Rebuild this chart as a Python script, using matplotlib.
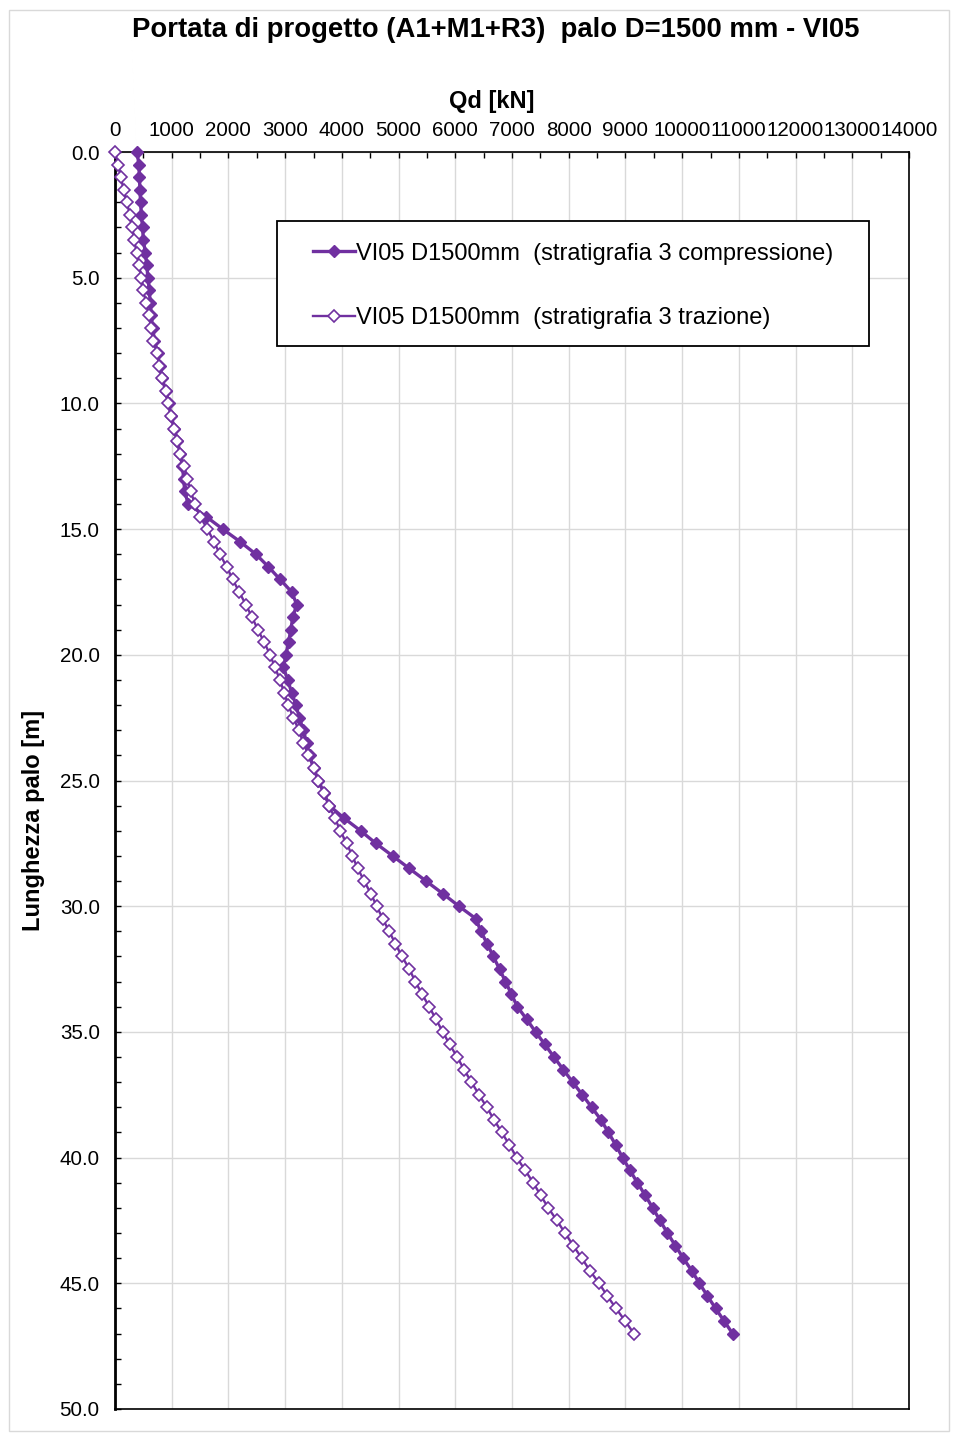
import numpy as np
import matplotlib.pyplot as plt
from matplotlib.ticker import MultipleLocator, FormatStrFormatter
from matplotlib.patches import Rectangle

plt.rcParams['font.family'] = ['Liberation Sans', 'DejaVu Sans']

# profondità [m]
depth = [0.0, 0.5, 1.0, 1.5, 2.0, 2.5, 3.0, 3.5, 4.0, 4.5,
         5.0, 5.5, 6.0, 6.5, 7.0, 7.5, 8.0, 8.5, 9.0, 9.5,
         10.0, 10.5, 11.0, 11.5, 12.0, 12.5, 13.0, 13.5, 14.0, 14.5,
         15.0, 15.5, 16.0, 16.5, 17.0, 17.5, 18.0, 18.5, 19.0, 19.5,
         20.0, 20.5, 21.0, 21.5, 22.0, 22.5, 23.0, 23.5, 24.0, 24.5,
         25.0, 25.5, 26.0, 26.5, 27.0, 27.5, 28.0, 28.5, 29.0, 29.5,
         30.0, 30.5, 31.0, 31.5, 32.0, 32.5, 33.0, 33.5, 34.0, 34.5,
         35.0, 35.5, 36.0, 36.5, 37.0, 37.5, 38.0, 38.5, 39.0, 39.5,
         40.0, 40.5, 41.0, 41.5, 42.0, 42.5, 43.0, 43.5, 44.0, 44.5,
         45.0, 45.5, 46.0, 46.5, 47.0]

# Qd compressione [kN]
qd_compressione = [390, 420, 430, 440, 450, 465, 485, 500, 535, 560,
                   580, 605, 620, 640, 665, 695, 750, 790, 830, 895,
                   945, 990, 1045, 1100, 1150, 1190, 1210, 1230, 1290, 1605,
                   1900, 2205, 2485, 2705, 2910, 3115, 3205, 3135, 3100, 3060,
                   3015, 2970, 3045, 3115, 3190, 3250, 3320, 3380, 3430, 3500,
                   3585, 3685, 3780, 4040, 4330, 4600, 4895, 5190, 5485, 5780,
                   6065, 6365, 6450, 6565, 6670, 6780, 6885, 6990, 7095, 7260,
                   7415, 7580, 7740, 7905, 8070, 8240, 8405, 8570, 8700, 8830,
                   8950, 9080, 9210, 9350, 9480, 9610, 9740, 9880, 10020, 10170,
                   10305, 10445, 10590, 10740, 10890]

# Qd trazione [kN]
qd_trazione = [0, 60, 105, 150, 205, 265, 305, 340, 380, 425,
               465, 500, 545, 600, 635, 675, 745, 780, 825, 895,
               940, 985, 1040, 1100, 1145, 1225, 1275, 1335, 1410, 1500,
               1630, 1745, 1850, 1970, 2075, 2190, 2305, 2415, 2520, 2630,
               2735, 2820, 2910, 2980, 3055, 3145, 3240, 3320, 3410, 3510,
               3585, 3685, 3770, 3880, 3970, 4085, 4185, 4280, 4395, 4510,
               4615, 4720, 4835, 4945, 5060, 5190, 5295, 5415, 5540, 5660,
               5780, 5900, 6035, 6155, 6285, 6420, 6555, 6685, 6820, 6955,
               7085, 7230, 7375, 7505, 7640, 7790, 7935, 8080, 8230, 8375,
               8535, 8680, 8835, 8995, 9150]

label_c = 'VI05 D1500mm  (stratigrafia 3 compressione)'
label_t = 'VI05 D1500mm  (stratigrafia 3 trazione)'

viola = '#7030A0'

fig = plt.figure(figsize=(9.55, 14.37), dpi=100)
# bordo grigio dell'area grafico
fig.patches.append(Rectangle((0.009, 0.004), 0.985, 0.989, transform=fig.transFigure,
                             fill=False, edgecolor='#D9D9D9', linewidth=1))

ax = fig.add_axes([115 / 955, 1 - 1409 / 1437, 794 / 955, 1257 / 1437])

ax.plot(qd_compressione, depth, color=viola, linewidth=2.4, marker='D',
        markersize=6.5, markerfacecolor=viola, markeredgecolor=viola,
        label=label_c, zorder=3, clip_on=False)
ax.plot(qd_trazione, depth, color=viola, linewidth=1.7, marker='D',
        markersize=6.3, markerfacecolor='white', markeredgecolor=viola,
        markeredgewidth=1.2, label=label_t, zorder=4, clip_on=False)

ax.set_xlim(0, 14000)
ax.set_ylim(50, 0)

ax.xaxis.set_major_locator(MultipleLocator(1000))
ax.xaxis.set_minor_locator(MultipleLocator(500))
ax.yaxis.set_major_locator(MultipleLocator(5))
ax.yaxis.set_minor_locator(MultipleLocator(1))
ax.yaxis.set_major_formatter(FormatStrFormatter('%.1f'))

ax.xaxis.tick_top()
ax.xaxis.set_label_position('top')
ax.tick_params(axis='x', which='both', direction='in', top=True, bottom=False,
               labelsize=14.8, pad=9, colors='black')
ax.tick_params(axis='y', which='both', direction='in', left=True, right=False,
               labelsize=14.8, pad=11)
ax.tick_params(which='major', length=4, width=1)
ax.tick_params(which='minor', length=4, width=1)

ax.grid(True, which='major', color='#D9D9D9', linewidth=1)
ax.set_axisbelow(True)
for s in ax.spines.values():
    s.set_color('black')
    s.set_linewidth(1.2)
ax.spines['left'].set_linewidth(2)

ax.set_xlabel('Qd [kN]', fontsize=17, fontweight='bold')
ax.set_ylabel('Lunghezza palo [m]', fontsize=17, fontweight='bold')
ax.xaxis.set_label_coords(0.4748, 1.035)
ax.yaxis.set_label_coords(-0.088, 0.4686)

fig.suptitle('Portata di progetto (A1+M1+R3)  palo D=1500 mm - VI05',
             fontsize=19.8, fontweight='bold', x=496 / 955, y=1 - 30 / 1437, va='center')

# riquadro legenda
ax.add_patch(Rectangle((0.204, 0.8457), 0.7456, 0.0994, transform=ax.transAxes,
                       facecolor='white', edgecolor='black', linewidth=1.3, zorder=5))
leg = ax.legend(loc='upper left', bbox_to_anchor=(0.2494, 0.9278),
                fontsize=17, frameon=False, labelspacing=1.78,
                borderpad=0, handlelength=1.78, handletextpad=0.05,
                borderaxespad=0)
leg.set_zorder(6)

fig.savefig('out.png', dpi=100)
